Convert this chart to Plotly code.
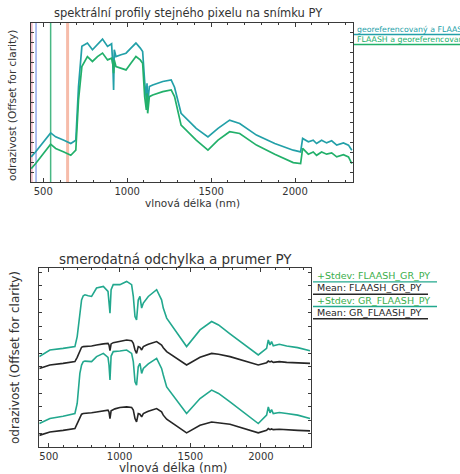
import plotly.graph_objects as go

W, H = 460, 474

# ---------------- top chart data ----------------
wl_top = [428, 455, 544, 574, 623, 664, 694, 710, 730, 763,
          793, 823, 853, 883, 907, 915, 919, 923, 933, 963,
          993, 1022, 1052, 1078, 1092, 1104, 1114, 1118, 1122, 1132,
          1152, 1212, 1262, 1282, 1321, 1411, 1481, 1541, 1610, 1670,
          1770, 1879, 1989, 2033, 2045, 2079, 2108, 2128, 2158, 2188,
          2218, 2248, 2288, 2318, 2338]
geo_flaash = [0.158, 0.19, 0.309, 0.284, 0.263, 0.242, 0.263, 0.6, 0.853, 0.874,
              0.832, 0.863, 0.899, 0.853, 0.869, 0.726, 0.579, 0.832, 0.789, 0.8,
              0.81, 0.842, 0.874, 0.842, 0.821, 0.632, 0.516, 0.621, 0.495, 0.6,
              0.61, 0.632, 0.642, 0.596, 0.432, 0.337, 0.284, 0.337, 0.389, 0.368,
              0.295, 0.242, 0.2, 0.189, 0.274, 0.253, 0.263, 0.242, 0.263, 0.246,
              0.259, 0.232, 0.246, 0.232, 0.2]
flaash_geo = [0.084, 0.116, 0.238, 0.211, 0.189, 0.168, 0.2, 0.516, 0.726, 0.789,
              0.758, 0.789, 0.811, 0.768, 0.779, 0.737, 0.684, 0.768, 0.726, 0.716,
              0.705, 0.747, 0.789, 0.768, 0.747, 0.537, 0.453, 0.558, 0.432, 0.537,
              0.547, 0.568, 0.579, 0.537, 0.358, 0.263, 0.2, 0.263, 0.316, 0.305,
              0.232, 0.175, 0.122, 0.116, 0.211, 0.175, 0.189, 0.168, 0.189, 0.175,
              0.183, 0.158, 0.172, 0.158, 0.116]
top_names = ["georeferencovaný a FLAASH", "FLAASH a georeferencovaný"]
top_colors = ["#22a0a8", "#22b06a"]

band_wl = [431, 457, 544, 645]
band_colors = ["#f4bcc8", "#94a8ea", "#48b884", "#f6bcaa"]
band_widths = [2, 1.5, 1.5, 3]

# ---------------- bottom chart data ----------------
wl_bot = [432, 507, 600, 684, 700, 719, 731, 743, 755, 778,
          802, 837, 861, 885, 918, 925, 932, 940, 955, 967,
          1002, 1050, 1085, 1097, 1109, 1120, 1132, 1144, 1156, 1168,
          1191, 1203, 1262, 1297, 1309, 1333, 1474, 1569, 1651, 1700,
          1781, 1981, 2040, 2052, 2064, 2075, 2087, 2130, 2182, 2260, 2347]
std_flaash_gr = [50.5, 54.2, 55.1, 56.1, 61.7, 76.6, 82.2, 84.5, 85.0, 84.5,
                 84.1, 88.8, 89.3, 89.7, 86.9, 82.2, 74.8, 87.9, 90.7, 90.7,
                 90.7, 92.5, 90.7, 84.1, 72.9, 71.0, 82.2, 84.1, 77.6, 80.4,
                 83.2, 84.1, 87.9, 82.2, 77.6, 72.0, 56.1, 65.4, 70.1, 68.2,
                 63.2, 51.4, 55.1, 59.8, 57.0, 58.9, 56.6, 57.4, 56.4, 55.5, 53.8]
mean_flaash_gr = [43.9, 45.8, 46.7, 47.7, 50.1, 54.2, 55.7, 56.1, 56.1, 56.1,
                  56.4, 57.0, 57.4, 57.6, 57.9, 57.0, 53.8, 57.6, 58.3, 58.5,
                  59.3, 59.8, 59.4, 57.9, 54.2, 52.3, 56.1, 55.7, 54.2, 56.1,
                  57.0, 57.4, 58.9, 57.0, 55.5, 53.3, 45.8, 50.1, 52.3, 51.8,
                  50.5, 45.8, 47.1, 48.0, 47.5, 47.9, 47.3, 47.7, 47.3, 47.1, 46.7]
std_gr_flaash = [13.1, 15.9, 17.2, 18.7, 24.3, 41.1, 45.8, 47.7, 48.0, 47.7,
                 47.7, 50.5, 51.4, 52.3, 50.1, 45.8, 37.4, 50.8, 53.3, 53.3,
                 53.6, 54.2, 52.3, 47.7, 36.4, 34.6, 44.9, 46.7, 41.1, 43.9,
                 45.8, 46.4, 49.5, 43.9, 40.2, 33.6, 18.7, 27.1, 31.8, 29.9,
                 25.2, 13.1, 17.8, 22.4, 19.1, 20.9, 18.7, 19.3, 18.7, 17.8, 15.9]
mean_gr_flaash = [6.5, 8.4, 9.3, 10.3, 13.1, 16.8, 18.3, 18.7, 18.7, 18.7,
                  19.1, 19.6, 20.0, 20.2, 20.6, 19.6, 15.9, 20.2, 21.1, 21.3,
                  22.1, 22.4, 22.1, 20.6, 15.9, 14.0, 18.7, 18.3, 16.8, 18.7,
                  19.6, 20.0, 21.5, 19.6, 17.8, 15.5, 7.9, 12.1, 14.0, 13.6,
                  12.7, 7.9, 9.3, 10.3, 9.7, 10.1, 9.7, 9.9, 9.5, 9.3, 9.0]
bot_names = ["+Stdev: FLAASH_GR_PY", "Mean: FLAASH_GR_PY",
             "+Stdev: GR_FLAASH_PY", "Mean: GR_FLAASH_PY"]
bot_colors = ["#22a88e", "#262626", "#22a88e", "#262626"]
bot_text_colors = ["#3aae4a", "#262626", "#3aae4a", "#262626"]

x_ticks = [500, 1000, 1500, 2000]
tick_labels = ["500", "1000", "1500", "2000"]

FONT = "DejaVu Sans"
AX = "#3a3a3a"


def px(x):
    return x / W


def py(y):
    return 1 - y / H


fig = go.Figure()

for wl, c, w in zip(band_wl, band_colors, band_widths):
    fig.add_trace(go.Scatter(x=[wl, wl], y=[0, 1], mode="lines",
                             line=dict(color=c, width=w), xaxis="x", yaxis="y",
                             showlegend=False, hoverinfo="skip"))

for name, ys, c in zip(top_names, [geo_flaash, flaash_geo], top_colors):
    fig.add_trace(go.Scatter(x=wl_top, y=ys, mode="lines", name=name,
                             line=dict(color=c, width=1.7), xaxis="x", yaxis="y",
                             showlegend=False))

for name, ys, c in zip(bot_names, [std_flaash_gr, mean_flaash_gr, std_gr_flaash, mean_gr_flaash], bot_colors):
    fig.add_trace(go.Scatter(x=wl_bot, y=ys, mode="lines", name=name,
                             line=dict(color=c, width=1.6), xaxis="x2", yaxis="y2",
                             showlegend=False))

common_x = dict(showline=True, linecolor=AX, linewidth=1, mirror="ticks",
                ticks="inside", ticklen=4, tickcolor=AX, showgrid=False, zeroline=False,
                tickvals=x_ticks, ticktext=tick_labels,
                tickfont=dict(family=FONT, size=10, color="#333"),
                minor=dict(dtick=100, tick0=0, ticks="inside", ticklen=2, tickcolor=AX))
common_y = dict(showline=True, linecolor=AX, linewidth=1, mirror="ticks",
                ticks="inside", ticklen=3, tickcolor=AX, showgrid=False, zeroline=False,
                showticklabels=False)

fig.update_layout(
    width=W, height=H, margin=dict(l=0, r=0, t=0, b=0),
    paper_bgcolor="white", plot_bgcolor="white", showlegend=False,
    xaxis=dict(domain=[px(31), px(353)], range=[427, 2345], anchor="y", **common_x),
    yaxis=dict(domain=[py(182), py(23)], range=[0, 1], anchor="x", dtick=0.0625, **common_y),
    xaxis2=dict(domain=[px(39.3), px(311)], range=[432, 2354], anchor="y2", **common_x),
    yaxis2=dict(domain=[py(447), py(268)], range=[0, 100], anchor="x2", dtick=7.5, **common_y),
)

ann = []
def text(x, y, s, size, color="#333", angle=0, xanchor="center"):
    ann.append(dict(x=px(x), y=py(y), xref="paper", yref="paper", text=s, showarrow=False,
                    xanchor=xanchor, yanchor="middle", textangle=angle,
                    font=dict(family=FONT, size=size, color=color)))

text(188, 13, "spektrální profily stejného pixelu na snímku PY", 11.5)
text(192, 203, "vlnová délka (nm)", 10.5)
text(12, 106, "odrazivost (Offset for clarity)", 10.5, angle=-90)
text(175, 259, "smerodatná odchylka a prumer PY", 13.5)
text(173, 468, "vlnová délka (nm)", 12)
text(15, 358, "odrazivost (Offset for clarity)", 12, angle=-90)

shapes = []
# top legend
for i, (name, c) in enumerate(zip(top_names, top_colors)):
    yy = 29.5 + i * 10
    text(355, yy, name, 7.8, color=c, xanchor="left")
    shapes.append(dict(type="line", xref="paper", yref="paper", x0=px(354), x1=px(460),
                       y0=py(yy + 5), y1=py(yy + 5), line=dict(color=c, width=1.3)))
# bottom legend
for i, (name, c, tc) in enumerate(zip(bot_names, bot_colors, bot_text_colors)):
    yy = 275.5 + i * 12.3
    text(315, yy, name, 9.5, color=tc, xanchor="left")
    x1 = 437 if "Stdev" in name else 428
    shapes.append(dict(type="line", xref="paper", yref="paper", x0=px(313), x1=px(x1),
                       y0=py(yy + 6.4), y1=py(yy + 6.4), line=dict(color=c, width=1.4)))

fig.update_layout(annotations=ann, shapes=shapes)
fig.write_html("out.html")
